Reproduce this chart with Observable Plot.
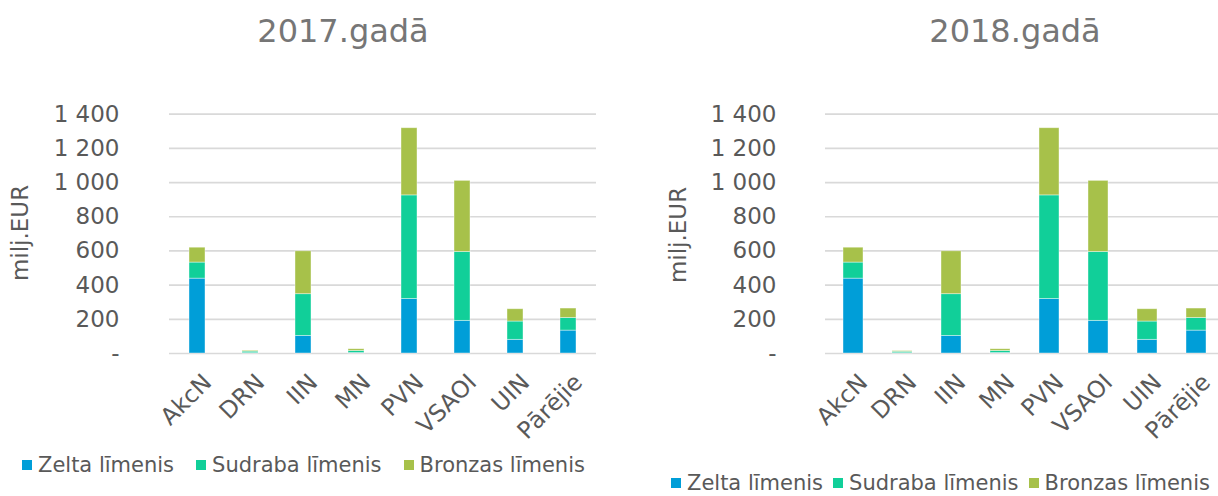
<!DOCTYPE html>
<html>
<head>
<meta charset="utf-8">
<script src="https://cdn.jsdelivr.net/npm/d3@7"></script>
<script src="https://cdn.jsdelivr.net/npm/@observablehq/plot@0.6"></script>
<style>
  html, body { margin: 0; padding: 0; background: #fff; overflow: hidden; }
  #wrap { position: relative; width: 1218px; height: 496px; overflow: hidden; font-family: "DejaVu Sans", Verdana, sans-serif; }
  .title { position: absolute; top: 15px; font-size: 32px; line-height: 32px; color: #767676; transform: translateX(-50%); white-space: nowrap; }
  .ylab { position: absolute; font-size: 23px; color: #595959; white-space: nowrap; transform: translate(-50%, -50%) rotate(-90deg); }
  .legend { position: absolute; font-size: 21px; line-height: 22px; color: #595959; white-space: nowrap; display: flex; align-items: center; }
  .legend .sw { display: inline-block; width: 10px; height: 10px; margin-right: 6px; }
  .chart { position: absolute; top: 0; }
</style>
</head>
<body>
<div id="wrap"></div>
<script>
// ---- data ----
const categories = ["AkcN", "DRN", "IIN", "MN", "PVN", "VSAOI", "UIN", "Pārējie"];
const levels = ["Zelta līmenis", "Sudraba līmenis", "Bronzas līmenis"];
const levelColors = ["#009ed8", "#11cf99", "#a7c14a"];
const yTicks = [0, 200, 400, 600, 800, 1000, 1200, 1400];

const gold2017   = [438, 2, 103, 3, 319, 191, 80, 134];
const silver2017 = [94, 9, 244, 12, 606, 403, 107, 74];
const bronze2017 = [87, 5, 251, 10, 393, 416, 72, 55];

const gold2018   = [438, 2, 103, 3, 319, 191, 80, 134];
const silver2018 = [94, 8, 244, 12, 606, 403, 107, 74];
const bronze2018 = [87, 4, 251, 10, 393, 416, 72, 55];

const titles = ["2017.gadā", "2018.gadā"];
const yTitle = "milj.EUR";

function rows(series) {
  const out = [];
  series.forEach((vals, li) => {
    vals.forEach((v, ci) => out.push({cat: categories[ci], level: levels[li], value: v}));
  });
  return out;
}

const fmt = d => d === 0 ? "-" : d3.format(",")(d).replace(/,/g, " ");

function makeChart(data, o) {
  return Plot.plot({
    width: o.width,
    height: 496,
    marginLeft: o.marginLeft,
    marginRight: o.marginRight,
    marginTop: 113.7,
    marginBottom: 143,
    style: {fontFamily: "'DejaVu Sans', Verdana, sans-serif", color: "#595959", background: "transparent", overflow: "visible"},
    x: {domain: categories, paddingInner: o.pi, paddingOuter: o.pi / 2, label: null, axis: null},
    y: {domain: [0, 1400], label: null, axis: null},
    color: {domain: levels, range: levelColors},
    marks: [
      Plot.gridY(yTicks, {stroke: "#d9d9d9", strokeOpacity: 1, strokeWidth: 1.7}),
      Plot.barY(data, {x: "cat", y: "value", fill: "level", stroke: "#ffffff", strokeOpacity: 0.5, strokeWidth: 0.8}),
      Plot.axisY(yTicks, {tickSize: 0, tickPadding: o.tickPad, tickFormat: fmt, fontSize: 23, label: null, fill: "#595959"}),
      Plot.axisX({tickSize: 0, tickRotate: -45, tickPadding: 6, fontSize: 23.5, dx: 10, dy: 19, label: null, fill: "#595959"})
    ]
  });
}

const wrap = document.getElementById("wrap");

const c1 = makeChart(rows([gold2017, silver2017, bronze2017]), {width: 609, marginLeft: 169, marginRight: 13, pi: 0.69, tickPad: 50});
c1.classList.add("chart"); c1.style.left = "0px";
wrap.appendChild(c1);

const c2 = makeChart(rows([gold2018, silver2018, bronze2018]), {width: 615, marginLeft: 216, marginRight: 0, pi: 0.6, tickPad: 49});
c2.classList.add("chart"); c2.style.left = "609px";
wrap.appendChild(c2);

function addDiv(cls, text, style) {
  const d = document.createElement("div");
  d.className = cls;
  d.textContent = text;
  Object.assign(d.style, style);
  wrap.appendChild(d);
  return d;
}
addDiv("title", titles[0], {left: "343px"});
addDiv("title", titles[1], {left: "1015px"});
addDiv("ylab", yTitle, {left: "20px", top: "233px"});
addDiv("ylab", yTitle, {left: "678px", top: "235px"});

function addLegend(left, top, gap) {
  const lg = document.createElement("div");
  lg.className = "legend";
  lg.style.left = left + "px";
  lg.style.top = top + "px";
  levels.forEach((l, i) => {
    const item = document.createElement("span");
    item.style.display = "inline-flex";
    item.style.alignItems = "center";
    if (i > 0) item.style.marginLeft = gap + "px";
    const sw = document.createElement("span");
    sw.className = "sw";
    sw.style.background = levelColors[i];
    const t = document.createElement("span");
    t.textContent = l;
    item.appendChild(sw); item.appendChild(t);
    lg.appendChild(item);
  });
  wrap.appendChild(lg);
}
addLegend(22, 454, 22);
addLegend(671, 472, 10);
</script>
</body>
</html>
